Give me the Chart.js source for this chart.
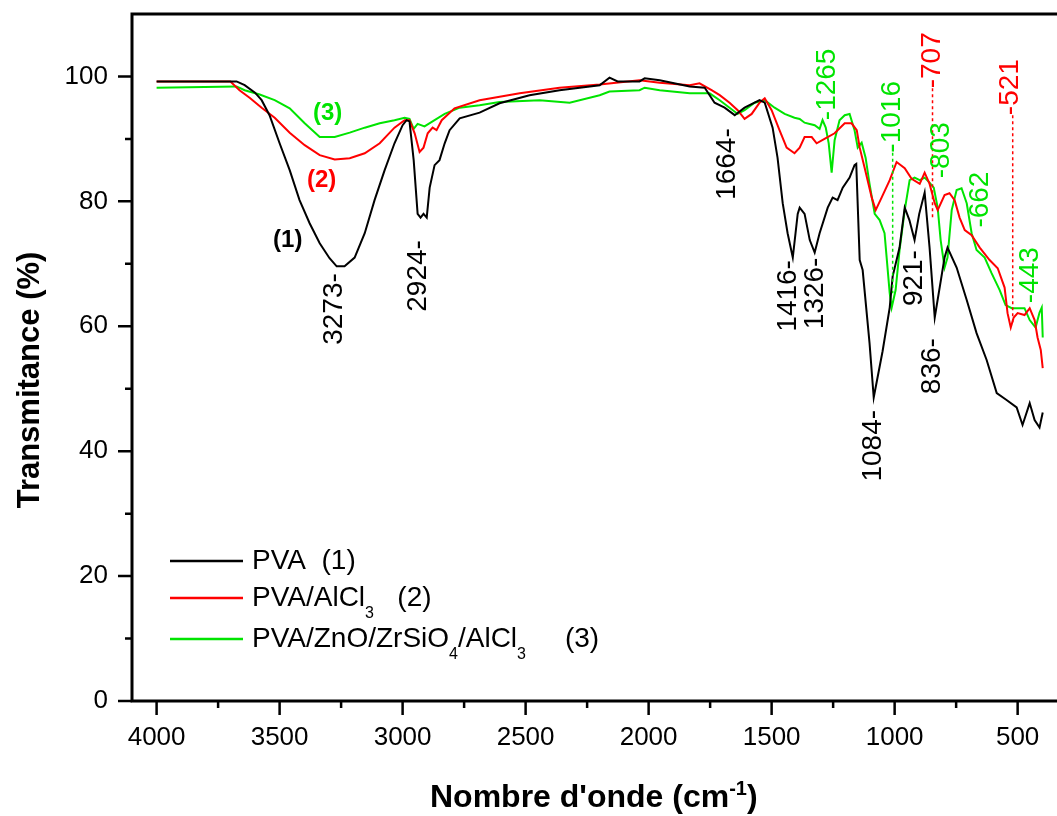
<!DOCTYPE html>
<html lang="fr">
<head>
<meta charset="UTF-8">
<title>Spectres IR</title>
<script src="https://cdn.jsdelivr.net/npm/chart.js"></script>
<style>
  body { margin: 0; padding: 0; background: #fff; }
  #wrap { width: 1057px; height: 816px; position: relative; }
</style>
</head>
<body>
<div id="wrap"><canvas id="ftir"></canvas></div>
<script>
// PVA (1)
const pvaWave = [4000, 3800, 3675, 3642, 3600, 3573, 3541, 3500, 3459, 3419, 3378, 3337, 3297, 3268, 3236, 3195, 3154, 3114, 3073, 3033, 3000, 2984, 2972, 2955, 2939, 2927, 2915, 2902, 2890, 2870, 2850, 2829, 2809, 2768, 2687, 2606, 2484, 2362, 2199, 2159, 2126, 2037, 2016, 1955, 1833, 1772, 1732, 1691, 1650, 1610, 1549, 1528, 1496, 1476, 1455, 1435, 1414, 1394, 1386, 1366, 1345, 1325, 1305, 1272, 1252, 1232, 1211, 1183, 1163, 1156, 1142, 1130, 1102, 1085, 1049, 1020, 1008, 980, 959, 940, 919, 900, 878, 858, 837, 817, 797, 785, 748, 707, 667, 626, 585, 545, 504, 480, 451, 431, 411, 398];
const pvaT = [99.2, 99.2, 99.2, 98.6, 97.4, 96.2, 93.8, 89.3, 85, 80.2, 76.5, 73.3, 70.9, 69.6, 69.6, 71, 74.9, 80.2, 85, 89.3, 92.2, 93, 92.8, 86.6, 78, 77.4, 78, 77.4, 82.2, 85.8, 86.6, 89.3, 91.4, 93.3, 94.2, 95.7, 97, 97.8, 98.6, 99.8, 99.2, 99.2, 99.7, 99.4, 98.4, 98.2, 95.8, 95, 93.8, 95, 96.2, 95.8, 91.8, 87, 79.7, 74.9, 71, 78, 79, 78, 73.8, 71.8, 74.9, 79, 80.6, 80.2, 82.2, 83.8, 85.8, 86, 70.6, 69, 57.3, 48.6, 56, 63, 68, 72.6, 79, 77, 73.8, 78, 81.4, 72.6, 61.4, 66.2, 71, 72.6, 69.4, 64.2, 58.9, 54.6, 49.3, 48.2, 47, 44.2, 47.7, 45, 43.8, 46.2];

// PVA/AlCl3 (2)
const alWave = [4000, 3700, 3663, 3622, 3573, 3520, 3459, 3398, 3337, 3276, 3215, 3154, 3093, 3033, 2992, 2972, 2951, 2931, 2915, 2898, 2878, 2862, 2841, 2789, 2687, 2524, 2362, 2199, 2037, 1955, 1833, 1793, 1744, 1711, 1671, 1638, 1610, 1581, 1549, 1528, 1500, 1468, 1439, 1407, 1386, 1366, 1337, 1317, 1285, 1244, 1203, 1175, 1154, 1142, 1122, 1093, 1077, 1053, 1020, 992, 959, 931, 898, 878, 858, 837, 825, 797, 777, 756, 736, 715, 687, 654, 614, 581, 553, 541, 528, 516, 500, 472, 451, 431, 419, 406, 398];
const alT = [99.2, 99.2, 97.8, 96.6, 95, 93.4, 91, 89, 87.4, 86.7, 86.9, 87.7, 89.3, 91.8, 93, 93, 90.9, 87.9, 88.6, 90.9, 91.8, 91.4, 93, 94.9, 96.2, 97.3, 98.2, 98.7, 99.4, 99, 98.6, 98.9, 97.8, 97, 95.8, 94.6, 93.2, 94, 95.8, 96.5, 94.6, 91.4, 88.6, 87.7, 88.6, 90.3, 90.3, 89.3, 90, 90.9, 92.5, 92.5, 91.4, 88.6, 85.4, 80.6, 78.6, 80.6, 83.4, 86.3, 85.3, 83.6, 82.8, 84.6, 82.8, 79.7, 78.6, 81, 81.3, 80.2, 77.4, 75.4, 74.6, 72.6, 70.6, 69.3, 66.2, 62.1, 59.8, 61.4, 62.1, 61.8, 62.9, 61, 58.2, 56.2, 53.3];

// PVA/ZnO/ZrSiO4/AlCl3 (3)
const znWave = [4000, 3675, 3642, 3581, 3520, 3459, 3398, 3337, 3276, 3215, 3154, 3093, 3033, 2992, 2972, 2955, 2939, 2911, 2870, 2829, 2768, 2687, 2606, 2443, 2321, 2199, 2159, 2037, 2016, 1955, 1833, 1752, 1711, 1671, 1638, 1610, 1569, 1528, 1488, 1447, 1407, 1386, 1366, 1345, 1325, 1305, 1293, 1280, 1268, 1256, 1244, 1224, 1203, 1183, 1163, 1150, 1134, 1118, 1102, 1081, 1061, 1041, 1020, 1012, 996, 980, 959, 939, 919, 898, 878, 858, 841, 825, 813, 797, 785, 768, 748, 728, 707, 687, 667, 634, 606, 573, 549, 524, 492, 472, 451, 427, 411, 402, 398];
const znT = [98.2, 98.4, 97.8, 97.1, 96.2, 94.9, 92.5, 90.3, 90.3, 91, 91.8, 92.5, 93, 93.4, 93.2, 91.6, 92.4, 92, 93, 94, 95, 95.4, 95.9, 96.2, 95.8, 97, 97.6, 97.8, 98.2, 97.8, 97.3, 97.3, 96.2, 95, 94, 94.6, 95.8, 96.2, 95, 94, 93.4, 93.2, 92.6, 92.4, 92.2, 91.6, 93, 91.8, 89.3, 84.6, 89.8, 93, 93.8, 94, 91.4, 88.6, 89.4, 87, 82.8, 78, 77, 74.9, 65.3, 63, 65.8, 72.2, 78.6, 83.4, 83.8, 83.4, 83.8, 83, 82.2, 79, 73.8, 69.4, 71, 78.6, 81.8, 82.1, 79.7, 74.9, 72.2, 71, 68.5, 65.8, 63.4, 62.9, 62.9, 62.9, 61, 59.8, 62.2, 63, 58.2];

const xTicks = [500, 750, 1000, 1250, 1500, 1750, 2000, 2250, 2500, 2750, 3000, 3250, 3500, 3750, 4000];
const yTicks = [0, 10, 20, 30, 40, 50, 60, 70, 80, 90, 100];

// peak labels: up = text starts at the anchor and runs upward
const peakLabels = [
  { text: '3273-', wave: 3276, t: 68.5, color: '#000', up: false },
  { text: '2924-', wave: 2935, t: 73.8, color: '#000', up: false },
  { text: '1664-', wave: 1679, t: 91.7, color: '#000', up: false },
  { text: '1416-', wave: 1431, t: 70.6, color: '#000', up: false },
  { text: '1326-', wave: 1321, t: 71, color: '#000', up: false },
  { text: '1084-', wave: 1085, t: 46.6, color: '#000', up: false },
  { text: '921-', wave: 919, t: 72.2, color: '#000', up: false },
  { text: '836-', wave: 846, t: 58.1, color: '#000', up: false },
  { text: '-1265', wave: 1272, t: 93, color: '#00e400', up: true },
  { text: '-1016', wave: 1008, t: 87.8, color: '#00e400', up: true },
  { text: '-707', wave: 846, t: 98.1, color: '#ff0000', up: true },
  { text: '-803', wave: 809, t: 83.7, color: '#00e400', up: true },
  { text: '-662', wave: 650, t: 75.8, color: '#00e400', up: true },
  { text: '-521', wave: 528, t: 93.8, color: '#ff0000', up: true },
  { text: '-443', wave: 447, t: 63.7, color: '#00e400', up: true }
];
const dropLines = [
  { wave: 1008, from: 87.8, to: 65.3, color: '#00e400' },
  { wave: 846, from: 98.1, to: 77.4, color: '#ff0000' },
  { wave: 520, from: 93.8, to: 60.5, color: '#ff0000' }
];
const curveTags = [
  { text: '(1)', wave: 3467, t: 73.8, color: '#000' },
  { text: '(2)', wave: 3329, t: 83.4, color: '#ff0000' },
  { text: '(3)', wave: 3305, t: 94.1, color: '#00e400' }
];
const legendRows = [
  { color: '#000', runs: [['PVA  (1)']] },
  { color: '#ff0000', runs: [['PVA/AlCl'], ['3', true], ['   (2)']] },
  { color: '#00e400', runs: [['PVA/ZnO/ZrSiO'], ['4', true], ['/AlCl'], ['3', true], ['     (3)']] }
];

const FONT = "'Liberation Sans', Arial, sans-serif";

function toPoints(xs, ys) {
  return xs.map((x, i) => ({ x: x, y: ys[i] }));
}

function drawRuns(ctx, runs, x, y, size, subSize) {
  ctx.textAlign = 'left';
  ctx.textBaseline = 'middle';
  runs.forEach(r => {
    if (r[1]) {
      ctx.font = subSize + 'px ' + FONT;
      ctx.fillText(r[0], x, y + 16);
    } else {
      ctx.font = size + 'px ' + FONT;
      ctx.fillText(r[0], x, y);
    }
    x += ctx.measureText(r[0]).width;
  });
}

const decorPlugin = {
  id: 'decor',
  afterDraw(chart) {
    const ctx = chart.ctx;
    const xs = chart.scales.x;
    const ys = chart.scales.y;
    const a = chart.chartArea;
    ctx.save();

    // frame: left, bottom, top
    ctx.strokeStyle = '#000';
    ctx.lineWidth = 3;
    ctx.beginPath();
    ctx.moveTo(a.right, a.top);
    ctx.lineTo(a.left, a.top);
    ctx.lineTo(a.left, a.bottom);
    ctx.lineTo(a.right, a.bottom);
    ctx.stroke();

    // tick marks
    ctx.lineWidth = 2.5;
    ctx.beginPath();
    xTicks.forEach(v => {
      const px = xs.getPixelForValue(v);
      const len = v % 500 === 0 ? 14 : 7;
      ctx.moveTo(px, a.bottom);
      ctx.lineTo(px, a.bottom + len);
    });
    yTicks.forEach(v => {
      const py = ys.getPixelForValue(v);
      const len = v % 20 === 0 ? 14 : 7;
      ctx.moveTo(a.left, py);
      ctx.lineTo(a.left - len, py);
    });
    ctx.stroke();

    // drop lines
    ctx.lineWidth = 1.5;
    ctx.setLineDash([3, 3]);
    dropLines.forEach(d => {
      const px = xs.getPixelForValue(d.wave);
      ctx.strokeStyle = d.color;
      ctx.beginPath();
      ctx.moveTo(px, ys.getPixelForValue(d.from));
      ctx.lineTo(px, ys.getPixelForValue(d.to));
      ctx.stroke();
    });
    ctx.setLineDash([]);

    // peak labels
    ctx.font = '28px ' + FONT;
    ctx.textBaseline = 'middle';
    peakLabels.forEach(p => {
      ctx.save();
      ctx.translate(xs.getPixelForValue(p.wave), ys.getPixelForValue(p.t));
      ctx.rotate(-Math.PI / 2);
      ctx.textAlign = p.up ? 'left' : 'right';
      ctx.fillStyle = p.color;
      ctx.fillText(p.text, 0, 0);
      ctx.restore();
    });

    // curve tags
    ctx.font = 'bold 24px ' + FONT;
    ctx.textAlign = 'center';
    curveTags.forEach(c => {
      ctx.fillStyle = c.color;
      ctx.fillText(c.text, xs.getPixelForValue(c.wave), ys.getPixelForValue(c.t));
    });

    // legend
    legendRows.forEach((row, i) => {
      const y = [561, 598, 639][i];
      ctx.strokeStyle = row.color;
      ctx.lineWidth = 2.5;
      ctx.beginPath();
      ctx.moveTo(170, y);
      ctx.lineTo(243, y);
      ctx.stroke();
      ctx.fillStyle = '#000';
      drawRuns(ctx, row.runs, 252, y, 28, 16);
    });

    // axis titles
    ctx.fillStyle = '#000';
    ctx.save();
    ctx.translate(30, 380);
    ctx.rotate(-Math.PI / 2);
    ctx.font = 'bold 31px ' + FONT;
    ctx.textAlign = 'center';
    ctx.textBaseline = 'middle';
    ctx.fillText('Transmitance (%)', 0, 0);
    ctx.restore();

    ctx.textAlign = 'left';
    ctx.textBaseline = 'alphabetic';
    let tx = 430;
    ctx.font = 'bold 32px ' + FONT;
    ctx.fillText("Nombre d'onde (cm", tx, 807);
    tx += ctx.measureText("Nombre d'onde (cm").width;
    ctx.font = 'bold 20px ' + FONT;
    ctx.fillText('-1', tx, 795);
    tx += ctx.measureText('-1').width;
    ctx.font = 'bold 32px ' + FONT;
    ctx.fillText(')', tx, 807);

    ctx.restore();
  }
};

new Chart(document.getElementById('ftir'), {
  type: 'line',
  data: {
    datasets: [
      { label: 'PVA (1)', data: toPoints(pvaWave, pvaT), borderColor: '#000', borderWidth: 2, pointRadius: 0, tension: 0 },
      { label: 'PVA/AlCl3 (2)', data: toPoints(alWave, alT), borderColor: '#ff0000', borderWidth: 2, pointRadius: 0, tension: 0 },
      { label: 'PVA/ZnO/ZrSiO4/AlCl3 (3)', data: toPoints(znWave, znT), borderColor: '#00e400', borderWidth: 2, pointRadius: 0, tension: 0 }
    ]
  },
  options: {
    responsive: true,
    maintainAspectRatio: false,
    animation: false,
    layout: { padding: { top: 14, left: 0, right: 0, bottom: 0 } },
    plugins: { legend: { display: false }, tooltip: { enabled: false } },
    scales: {
      x: {
        type: 'linear',
        reverse: true,
        min: 340,
        max: 4100,
        afterBuildTicks: s => { s.ticks = xTicks.map(v => ({ value: v })); },
        afterFit: s => { s.height = 115; s.paddingLeft = 0; s.paddingRight = 0; },
        grid: { display: false, drawTicks: false },
        border: { display: false },
        ticks: {
          autoSkip: false,
          maxRotation: 0,
          padding: 21,
          color: '#000',
          font: { family: FONT, size: 26 },
          callback: v => (v % 500 === 0 ? String(v) : '')
        }
      },
      y: {
        min: 0,
        max: 110,
        afterBuildTicks: s => { s.ticks = yTicks.map(v => ({ value: v })); },
        afterFit: s => { s.width = 132; s.paddingTop = 0; s.paddingBottom = 0; },
        grid: { display: false, drawTicks: false },
        border: { display: false },
        ticks: {
          autoSkip: false,
          padding: 24,
          color: '#000',
          font: { family: FONT, size: 26 },
          callback: v => (v % 20 === 0 ? String(v) : '')
        }
      }
    }
  },
  plugins: [decorPlugin]
});
</script>
</body>
</html>
